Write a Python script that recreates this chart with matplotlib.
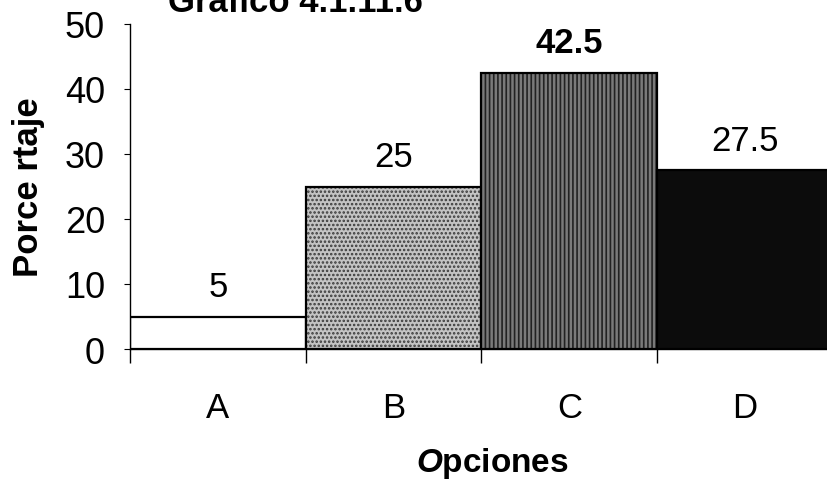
import matplotlib
matplotlib.use("Agg")
import matplotlib.pyplot as plt

categories = ["A", "B", "C", "D"]
values = [5, 25, 42.5, 27.5]
value_labels = ["5", "25", "42.5", "27.5"]
yticks = [0, 10, 20, 30, 40, 50]
title = "Gráfico 4.1.11.6"

plt.rcParams['font.family'] = ['Liberation Sans', 'DejaVu Sans']
plt.rcParams['mathtext.fontset'] = 'custom'
plt.rcParams['mathtext.it'] = 'Liberation Sans:bold:italic'
plt.rcParams['mathtext.rm'] = 'Liberation Sans:bold'
plt.rcParams['hatch.linewidth'] = 1.2

fig = plt.figure(figsize=(8.28, 4.81), dpi=100)
ax = fig.add_axes([130/828, 1 - 350/481, 703/828, (350 - 25)/481])

faces = ["white", "#c4c4c4", "#7a7a7a", "#0c0c0c"]
hatches = [None, "....", "||||", None]
hcolors = ["black", "#3a3a3a", "#222222", "black"]
x = range(len(categories))
bars = ax.bar(x, values, width=1.0, color=faces, edgecolor="black", linewidth=1.6)
for b, h, hc in zip(bars, hatches, hcolors):
    if h:
        b.set_hatch(h)
        b._hatch_color = matplotlib.colors.to_rgba(hc)

for i, (v, lab) in enumerate(zip(values, value_labels)):
    ax.text(i, v + 4.6, lab, ha="center", va="center", fontsize=25,
            fontweight="bold" if lab == "42.5" else "normal")

ax.set_xlim(-0.5, 3.5)
ax.set_ylim(0, 50)
ax.set_yticks(yticks)
ax.set_yticklabels([str(t) for t in yticks], fontsize=26)
ax.set_xticks([i for i in x])
ax.set_xticklabels(categories, fontsize=25)
ax.tick_params(axis="x", length=0, pad=30)
ax.set_xticks([-0.5, 0.5, 1.5, 2.5], minor=True)
ax.tick_params(axis="x", which="minor", length=10, width=1, direction="out")
ax.tick_params(axis="y", length=4, width=0.8, pad=14)

for s in ["top", "right"]:
    ax.spines[s].set_visible(False)
ax.spines["left"].set_linewidth(1.0)
ax.spines["bottom"].set_linewidth(1.0)

ax.set_ylabel("Porce rtaje", fontsize=25, fontweight="bold", labelpad=14)
ax.set_xlabel(r"$\it{O}$pciones", fontsize=24, fontweight="bold")
ax.xaxis.set_label_coords(0.515, -0.295)

fig.text(168/828, 1 + 14/481, title, fontsize=25, fontweight="bold", ha="left", va="top")

fig.savefig("out.png", dpi=100)
